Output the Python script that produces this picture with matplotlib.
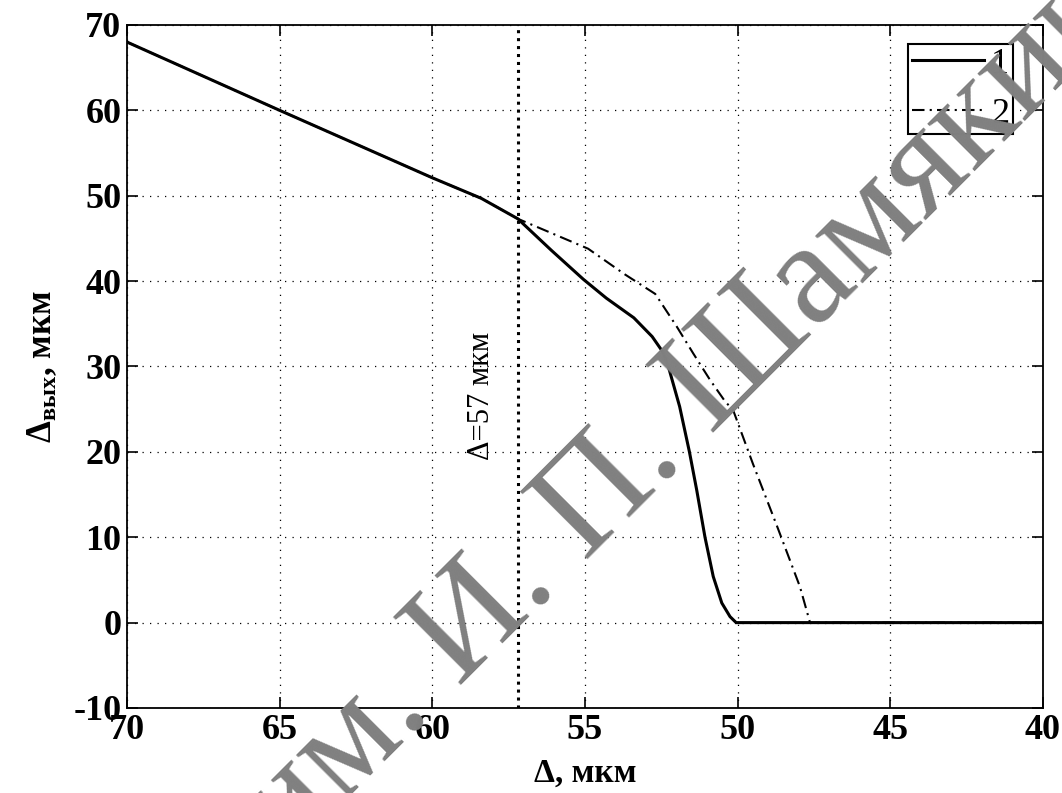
import matplotlib
matplotlib.use("Agg")
import matplotlib.pyplot as plt

# curve 1 (solid)
x1 = [70, 65, 60, 58.4, 57.2, 56.1, 55.05, 54.3, 53.4, 52.8, 52.45, 52.27,
      51.9, 51.58, 51.34, 51.07, 50.8, 50.52, 50.25, 50.05, 40]
y1 = [68, 60, 52.1, 49.7, 47.3, 43.6, 40.2, 38.0, 35.7, 33.5, 31.7, 30.0,
      25.3, 20.0, 15.5, 10.0, 5.4, 2.3, 0.7, 0.0, 0.0]

# curve 2 (dash-dot), splits from curve 1 at 57.2
x2 = [70, 65, 60, 58.4, 57.2, 54.9, 53.7, 52.7, 52.0, 51.45, 50.9, 50.41,
      50.15, 49.5, 48.7, 47.96, 47.63, 40]
y2 = [68, 60, 52.1, 49.7, 47.3, 43.8, 40.8, 38.5, 34.7, 31.5, 28.4, 25.9,
      24.9, 18.6, 11.2, 4.2, 0.0, 0.0]

x_marker = 57.2
xticks = [70, 65, 60, 55, 50, 45, 40]
yticks = [-10, 0, 10, 20, 30, 40, 50, 60, 70]

plt.rcParams["font.family"] = ["Liberation Serif", "DejaVu Serif"]
plt.rcParams["mathtext.fontset"] = "custom"
plt.rcParams["mathtext.rm"] = "Liberation Serif:bold"
plt.rcParams["mathtext.bf"] = "Liberation Serif:bold"
plt.rcParams["mathtext.it"] = "Liberation Serif:bold"

fig = plt.figure(figsize=(10.62, 7.93), dpi=100)
ax = fig.add_axes([0.1196, 0.1072, 0.8625, 0.8613])

ax.plot(x2, y2, color="k", lw=1.5, linestyle=(0, (6, 2.5, 1, 2.5)), label="2", zorder=3)
ax.plot(x1, y1, color="k", lw=2.2, label="1", zorder=4)
ax.axvline(x_marker, color="k", lw=2.2, linestyle=(0, (1, 1.6)), zorder=2)
ax.text(x_marker + 1.2, 19, "Δ=57 мкм", rotation=90, fontsize=22,
        ha="center", va="bottom")

ax.set_xlim(70, 40)
ax.set_ylim(-10, 70)
ax.set_xticks(xticks)
ax.set_yticks(yticks)
ax.set_xticklabels([str(v) for v in xticks])
ax.set_yticklabels([str(v) for v in yticks])
ax.grid(True, color="k", lw=0.9, linestyle=(0, (1, 5)))
ax.tick_params(direction="in", length=8, width=1.2, top=True, right=True,
               labelsize=26, pad=4)
for lbl in ax.get_xticklabels() + ax.get_yticklabels():
    lbl.set_fontweight("bold")
for sp in ax.spines.values():
    sp.set_linewidth(1.3)

ax.set_xlabel("Δ, мкм", fontsize=24, fontweight="bold", labelpad=8)
ax.set_ylabel(r"$\Delta_{вых}$, мкм", fontsize=25, fontweight="bold", labelpad=10)

handles, labels = ax.get_legend_handles_labels()
leg = ax.legend(handles[::-1], labels[::-1], loc="upper right",
                bbox_to_anchor=(0.967, 0.972), borderaxespad=0, fontsize=26,
                handlelength=2.0, handletextpad=0.2, labelspacing=0.45,
                borderpad=0.1, fancybox=False, framealpha=1)
leg.get_frame().set_edgecolor("k")
leg.get_frame().set_linewidth(1.5)

# watermark
fig.text(0.270, -0.084, "им. И. П. Шамякина", rotation=45, rotation_mode="anchor",
         ha="left", va="baseline", fontsize=105, color="#808080", zorder=10)

fig.savefig("out.png", dpi=100)
